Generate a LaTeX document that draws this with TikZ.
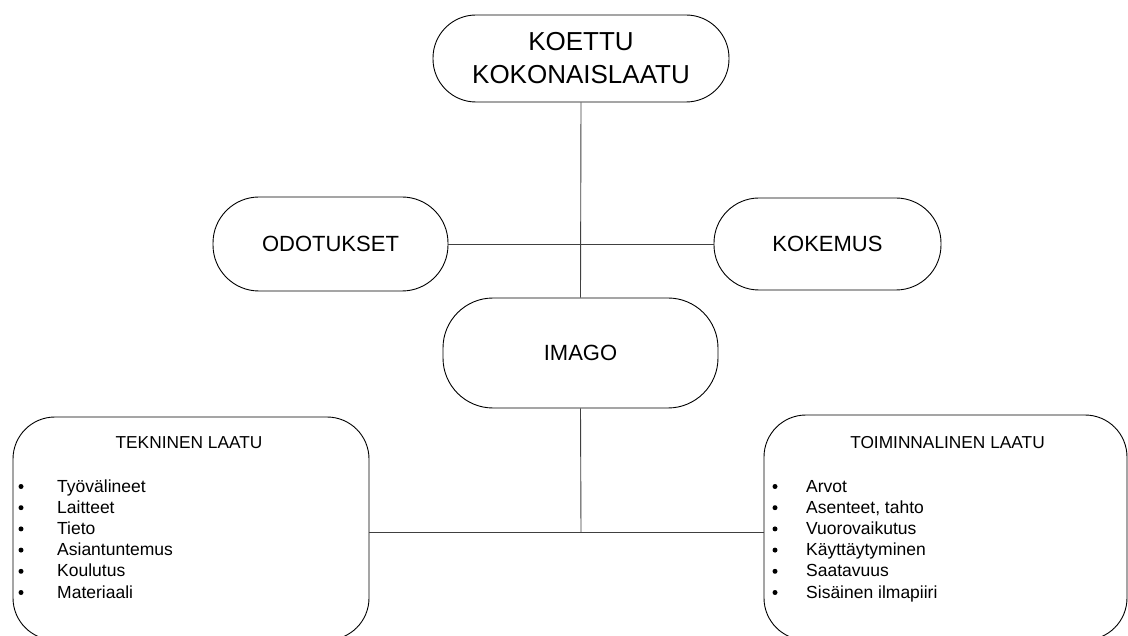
\documentclass[tikz,border=0pt]{standalone}
\usepackage{fontspec}
\setmainfont{Liberation Sans}
\begin{document}
\begin{tikzpicture}[x=1pt,y=-1pt,
  pill/.style={draw=black, line width=0.9pt, rounded corners=43pt, inner sep=0pt, fill=white},
  bigbox/.style={draw=black, line width=0.9pt, rounded corners=42pt, inner sep=0pt},
  link/.style={draw=black!75, line width=0.9pt},
  mid/.style={font=\fontsize{22}{26}\selectfont},
  title/.style={font=\fontsize{17.3}{20}\selectfont, inner sep=0pt},
  item/.style={font=\fontsize{17.5}{21}\selectfont, inner sep=0pt},
  bul/.style={circle, fill=black, inner sep=0pt, minimum size=5pt}]
\useasboundingbox (0,0) rectangle (1128,636);
\clip (0,0) rectangle (1128,636);
\fill[white] (0,0) rectangle (1128,636);

% bottom boxes
\node[bigbox, minimum width=356pt, minimum height=223pt] (tek) at (191,528.5) {};
\node[bigbox, minimum width=363pt, minimum height=225pt] (toim) at (945.5,527.5) {};

% pills
\node[pill, minimum width=296pt, minimum height=87pt, align=center,
      font=\fontsize{26}{33}\selectfont] (koettu) at (581,58.5) {KOETTU\\KOKONAISLAATU};
\node[pill, mid, rounded corners=46pt, minimum width=235pt, minimum height=94pt] (odot) at (330.5,244) {ODOTUKSET};
\node[pill, mid, rounded corners=45pt, minimum width=227pt, minimum height=92pt] (kok) at (827.5,244) {KOKEMUS};
\node[pill, mid, rounded corners=50pt, minimum width=275pt, minimum height=110pt] (imago) at (580.5,353) {IMAGO};

% connectors
\coordinate (j) at (581,532);
\draw[link] (koettu.south) -- (imago.north);
\draw[link] (odot.east) -- (kok.west);
\draw[link] (imago.south) -- (j);
\draw[link] (tek.east |- j) -- (toim.west |- j);

% titles
\node[title, anchor=base] (tekt) at (189,449) {TEKNINEN LAATU};
\node[title, anchor=base] (toimt) at (947.5,448) {TOIMINNALINEN LAATU};

% lists
\foreach \t [count=\i] in {Työvälineet, Laitteet, Tieto, Asiantuntemus, Koulutus, Materiaali} {
  \node[item, anchor=base west] (ta\i) at (57,{492+21.2*(\i-1)}) {\t};
  \node[bul] (tb\i) at (21,{492+21.2*(\i-1)-5.5}) {};
}
\foreach \t [count=\i] in {Arvot, {Asenteet, tahto}, Vuorovaikutus, Käyttäytyminen, Saatavuus, Sisäinen ilmapiiri} {
  \node[item, anchor=base west] (ra\i) at (806,{492+21.2*(\i-1)}) {\t};
  \node[bul] (rb\i) at (775,{492+21.2*(\i-1)-5.5}) {};
}
\end{tikzpicture}
\end{document}
